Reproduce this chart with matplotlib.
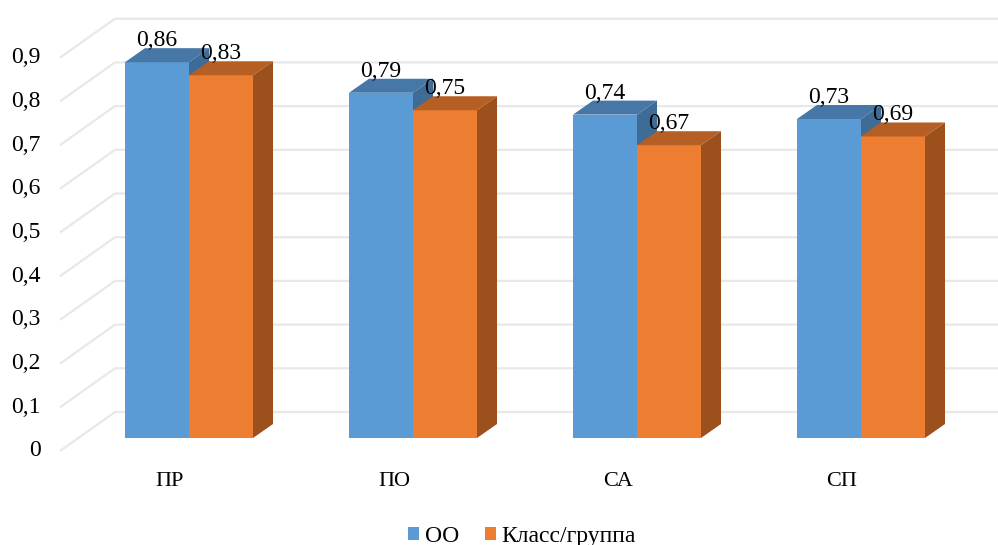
import matplotlib

matplotlib.use("Agg")
import matplotlib.pyplot as plt
from matplotlib.patches import Polygon, Patch

plt.rcParams["font.family"] = ["Liberation Serif", "DejaVu Serif"]

categories = ["ПР", "ПО", "СА", "СП"]
series_names = ["ОО", "Класс/группа"]
oo_values = [0.86, 0.79, 0.74, 0.73]
group_values = [0.83, 0.75, 0.67, 0.69]
y_ticks = [0, 0.1, 0.2, 0.3, 0.4, 0.5, 0.6, 0.7, 0.8, 0.9]

# цвета: фронт / верх / бок
BLUE = ("#5B9BD5", "#4677A6", "#3E6C97")
ORANGE = ("#ED7D31", "#B65F24", "#9C511D")
GRID = "#E8E8E8"

# масштаб: 1 категория = 224 px, 1 единица значения = 437 px
PX_X, PX_Y = 224.0, 437.0
W = 64 / PX_X            # ширина бара
DX, DY = 20 / PX_X, 14 / PX_Y  # глубина бара
# стенка (линии сетки): передняя точка и задняя точка
WALL_FX, WALL_FY = (60 - 189) / PX_X, -13 / PX_Y
WALL_BX, WALL_BY = (115 - 189) / PX_X, 26 / PX_Y

fig = plt.figure(figsize=(9.98, 5.45), dpi=100)
ax = fig.add_axes([0, 0, 1, 1])
ax.set_xlim(-189 / PX_X, (998 - 189) / PX_X)
ax.set_ylim(-107 / PX_Y, (545 - 107) / PX_Y)
ax.axis("off")

# сетка на задней стенке
for v in y_ticks:
    ax.plot([WALL_FX, WALL_BX, ax.get_xlim()[1]],
            [WALL_FY + v, WALL_BY + v, WALL_BY + v],
            color=GRID, lw=1.6, zorder=1, solid_capstyle="butt")
    ax.text(-148 / PX_X, WALL_FY + v, f"{v:g}".replace(".", ","),
            ha="right", va="center", fontsize=17)


def bar3d(x0, h, colors):
    front, top, side = colors
    ax.add_patch(Polygon([(x0, 0), (x0 + W, 0), (x0 + W, h), (x0, h)],
                         closed=True, fc=front, ec="none", zorder=3))
    ax.add_patch(Polygon([(x0, h), (x0 + W, h), (x0 + W + DX, h + DY), (x0 + DX, h + DY)],
                         closed=True, fc=top, ec="none", zorder=3))
    ax.add_patch(Polygon([(x0 + W, 0), (x0 + W + DX, DY), (x0 + W + DX, h + DY), (x0 + W, h)],
                         closed=True, fc=side, ec="none", zorder=3))
    ax.text(x0 + W / 2, h + 16 / PX_Y, f"{h:.2f}".replace(".", ","),
            ha="center", va="baseline", fontsize=17, zorder=5)


for i, cat in enumerate(categories):
    bar3d(i - W, oo_values[i], BLUE)
    bar3d(i, group_values[i], ORANGE)
    ax.text(i - 19 / PX_X, -44 / PX_Y, cat, ha="center", va="center", fontsize=16)

handles = [Patch(fc=BLUE[0], ec="none"), Patch(fc=ORANGE[0], ec="none")]
fig.legend(handles, series_names, loc="center", bbox_to_anchor=(0.523, 0.016),
           ncol=2, frameon=False, fontsize=17, handlelength=0.45, handleheight=0.45,
           handletextpad=0.25, columnspacing=1.1)

fig.savefig("out.png", dpi=100)
